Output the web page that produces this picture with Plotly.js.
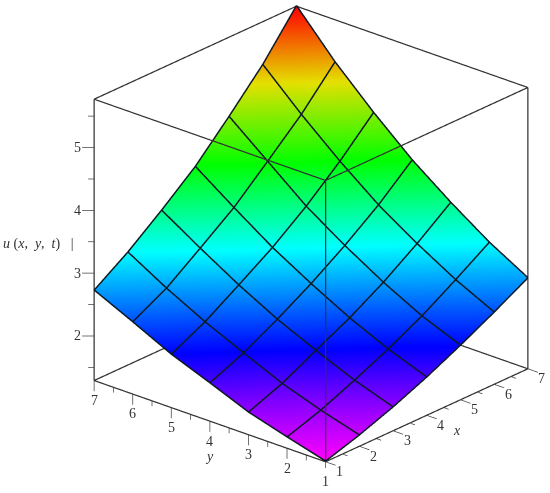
<!DOCTYPE html>
<html>
<head>
<meta charset="utf-8">
<script src="https://cdn.plot.ly/plotly-3.0.1.min.js"></script>
<style>html,body{margin:0;padding:0;background:#fff}</style>
</head>
<body>
<div id="plot" style="width:550px;height:493px"></div>
<script>
const xs = [1, 2, 3, 4, 5, 6, 7];
const ys = [1, 2, 3, 4, 5, 6, 7];
// u values, one row per y
const u = [
  [1.29, 1.46, 1.66, 1.89, 2.15, 2.43, 2.73],
  [1.46, 1.64, 1.87, 2.12, 2.40, 2.73, 3.08],
  [1.64, 1.85, 2.13, 2.40, 2.72, 3.09, 3.50],
  [1.89, 2.12, 2.41, 2.73, 3.09, 3.49, 3.96],
  [2.13, 2.40, 2.74, 3.09, 3.50, 3.97, 4.50],
  [2.43, 2.72, 3.11, 3.51, 4.00, 4.50, 5.09],
  [2.72, 3.08, 3.50, 3.95, 4.50, 5.08, 5.77]
];
const zMin = 1.29, zMax = 5.77;
const xyMajor = [1, 2, 3, 4, 5, 6, 7];
const xyMinor = [1.5, 2.5, 3.5, 4.5, 5.5, 6.5];
const zMajor = [2, 3, 4, 5];
const zMinor = [1.5, 2.5, 3.5, 4.5, 5.5];
const hues = ['#ff00ff', '#0000ff', '#00ffff', '#00ff00', '#e4e000', '#ff0000'];
const hueStops = [0, 0.19, 0.4, 0.6, 0.8, 1];

function segments(list) {
  const X = [], Y = [], Z = [];
  list.forEach(s => {
    X.push(s[0][0], s[1][0], null);
    Y.push(s[0][1], s[1][1], null);
    Z.push(s[0][2], s[1][2], null);
  });
  return { x: X, y: Y, z: Z };
}

const box = [];
[1, 7].forEach(a => [1, 7].forEach(b => {
  box.push([[a, b, zMin], [a, b, zMax]]);
  box.push([[1, a, b === 1 ? zMin : zMax], [7, a, b === 1 ? zMin : zMax]]);
  box.push([[a, 1, b === 1 ? zMin : zMax], [a, 7, b === 1 ? zMin : zMax]]);
}));

const ticks = [];
xyMajor.forEach(v => {
  ticks.push([[v, 1, zMin], [v, 0.74, zMin]]);
  ticks.push([[1, v, zMin], [1, v, zMin - 0.17]]);
});
xyMinor.forEach(v => {
  ticks.push([[v, 1, zMin], [v, 0.87, zMin]]);
  ticks.push([[1, v, zMin], [1, v, zMin - 0.085]]);
});
zMajor.forEach(v => ticks.push([[1, 7, v], [0.846, 7.177, v]]));
zMinor.forEach(v => ticks.push([[1, 7, v], [0.923, 7.088, v]]));

// mesh lines on the surface, nudged toward the camera so they stay on top
const lift = 0.02;
const mesh = [];
ys.forEach((y, j) => xs.slice(1).forEach((x, i) => {
  mesh.push([[xs[i] - lift, y - lift, u[j][i] + lift], [x - lift, y - lift, u[j][i + 1] + lift]]);
}));
xs.forEach((x, i) => ys.slice(1).forEach((y, j) => {
  mesh.push([[x - lift, ys[j] - lift, u[j][i] + lift], [x - lift, y - lift, u[j + 1][i] + lift]]);
}));

const font = { family: 'Liberation Serif, serif', size: 14, color: '#333' };
const notes = [];
xyMajor.forEach(v => {
  notes.push({ x: v, y: 1, z: zMin, text: String(v), xshift: 14, yshift: -10 });
  notes.push({ x: 1, y: v, z: zMin, text: String(v), yshift: -20 });
});
zMajor.forEach(v => notes.push({ x: 1, y: 7, z: v, text: String(v), xshift: -17 }));
notes.push({ x: 4, y: 1, z: zMin, text: '<i>x</i>', xshift: 30, yshift: -15 });
notes.push({ x: 1, y: 4, z: zMin, text: '<i>y</i>', xshift: 0, yshift: -35 });
notes.push({ x: 1, y: 7, z: 3.5, text: '<i>u</i> (<i>x</i>,  <i>y</i>,  <i>t</i>)   |', xshift: -56, yshift: -2 });
notes.forEach(n => { n.showarrow = false; n.font = font; });

const hidden = { showbackground: false, showgrid: false, zeroline: false, showline: false,
  showticklabels: false, ticks: '', showspikes: false, title: { text: '' } };

Plotly.newPlot('plot', [
  {
    type: 'surface', x: xs, y: ys, z: u, showscale: false, hoverinfo: 'skip',
    cmin: zMin, cmax: zMax,
    colorscale: hues.map((c, i) => [hueStops[i], c]),
    lighting: { ambient: 1, diffuse: 0, specular: 0, roughness: 1, fresnel: 0 }
  },
  Object.assign({ type: 'scatter3d', mode: 'lines', hoverinfo: 'skip', showlegend: false,
    line: { color: '#0c1a24', width: 3 } }, segments(mesh)),
  Object.assign({ type: 'scatter3d', mode: 'lines', hoverinfo: 'skip', showlegend: false,
    line: { color: '#333', width: 2.5 } }, segments(box)),
  Object.assign({ type: 'scatter3d', mode: 'lines', hoverinfo: 'skip', showlegend: false,
    line: { color: '#444', width: 1.5 } }, segments(ticks))
], {
  width: 550, height: 493,
  margin: { l: 0, r: 0, t: 0, b: 0 },
  paper_bgcolor: 'white',
  scene: {
    domain: { x: [0.131, 1], y: [0.051, 1] },
    xaxis: Object.assign({ range: [0.7, 7.3] }, hidden),
    yaxis: Object.assign({ range: [0.7, 7.3] }, hidden),
    zaxis: Object.assign({ range: [1.09, 5.97] }, hidden),
    aspectmode: 'manual',
    aspectratio: { x: 1.445, y: 1.445, z: 1.43 },
    camera: {
      eye: { x: -1.38, y: -1.206, z: 0.804 },
      center: { x: 0, y: 0, z: 0 },
      up: { x: 0, y: 0, z: 1 },
      projection: { type: 'orthographic' }
    },
    annotations: notes
  }
}, { displayModeBar: false });
</script>
</body>
</html>
